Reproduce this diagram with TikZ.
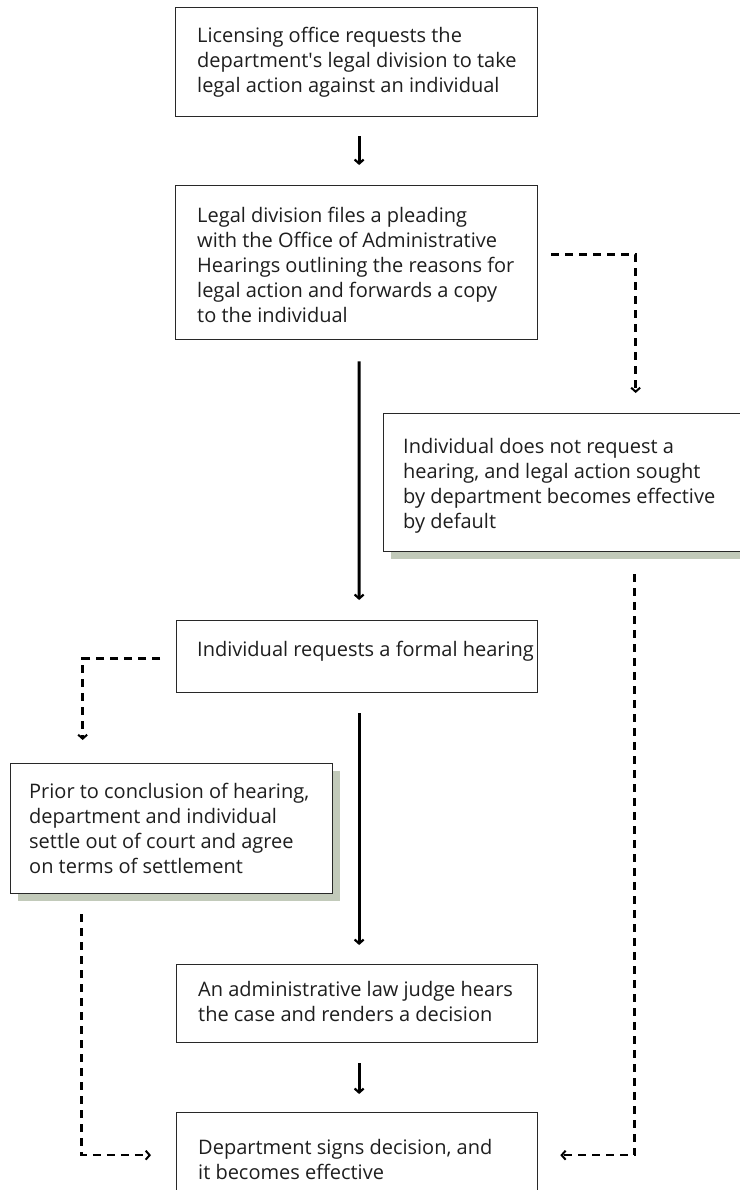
\documentclass[tikz,border=0pt]{standalone}
\usepackage{fontspec}
\setmainfont{Open Sans}
\usetikzlibrary{arrows.meta,shadows,calc}
\definecolor{shadowc}{RGB}{194,202,186}
\definecolor{edgec}{RGB}{40,40,40}
\definecolor{txtc}{RGB}{30,30,30}
\begin{document}
\begin{tikzpicture}[x=1bp,y=-1bp,
  box/.style={draw=edgec, line width=1.3bp, fill=white, rectangle, inner sep=0pt, anchor=north west},
  shadowbox/.style={box, drop shadow={shadow xshift=7bp, shadow yshift=-7bp, fill=shadowc, opacity=1}},
  txt/.style={align=left, inner sep=0pt, anchor=west, text=txtc, font=\fontsize{20bp}{25bp}\selectfont},
  flow/.style={line width=3bp, -{Straight Barb[length=4bp,width=9bp,line width=2.2bp]}},
  alt/.style={line width=2.6bp, dash pattern=on 8bp off 6bp, -{Straight Barb[length=4bp,width=9bp,line width=2bp]}}]
\useasboundingbox (0,0) rectangle (740,1190);

% boxes
\node[box, minimum width=362bp, minimum height=109bp] (b1) at (175,7) {};
\node[box, minimum width=362bp, minimum height=154bp] (b2) at (175,185) {};
\node[shadowbox, minimum width=362bp, minimum height=138bp] (b3) at (383,413) {};
\node[box, minimum width=361bp, minimum height=72bp] (b4) at (176,620) {};
\node[shadowbox, minimum width=322bp, minimum height=130bp] (b5) at (10,763) {};
\node[box, minimum width=361bp, minimum height=78bp] (b6) at (176,964) {};
\node[box, minimum width=361bp, minimum height=85bp] (b7) at (176,1112) {};

% texts
\node[txt] (t1) at ([xshift=22bp]b1.west) {Licensing office requests the\\department\textquotesingle s legal division to take\\legal action against an individual};
\node[txt] (t2) at ([xshift=22bp,yshift=-2bp]b2.west) {Legal division files a pleading\\with the Office of Administrative\\Hearings outlining the reasons for\\legal action and forwards a copy\\to the individual};
\node[txt] (t3) at ([xshift=20bp,yshift=-3bp]b3.west) {Individual does not request a\\hearing, and legal action sought\\by department becomes effective\\by default};
\node[txt] (t4) at ([xshift=21bp,yshift=5bp]b4.west) {Individual requests a formal hearing};
\node[txt] (t5) at ([xshift=19bp]b5.west) {Prior to conclusion of hearing,\\department and individual\\settle out of court and agree\\on terms of settlement};
\node[txt] (t6) at ([xshift=22bp,yshift=2bp]b6.west) {An administrative law judge hears\\the case and renders a decision};
\node[txt] (t7) at ([xshift=22bp,yshift=-4bp]b7.west) {Department signs decision, and\\it becomes effective};

% main flow
\draw[flow, shorten <=19bp, shorten >=20bp] ([xshift=2.5bp]b1.south) -- ([xshift=2.5bp]b2.north);
\draw[flow, shorten <=21bp, shorten >=20bp] ([xshift=2.5bp]b2.south) -- ([xshift=2bp]b4.north);
\draw[flow, shorten <=20bp, shorten >=19bp] ([xshift=2bp]b4.south) -- ([xshift=2bp]b6.north);
\draw[flow, shorten <=20bp, shorten >=18bp] ([xshift=2bp]b6.south) -- ([xshift=2bp]b7.north);

% alternative paths
\coordinate (d1s) at ($(b2.east)+(13,-8)$);
\coordinate (d2s) at ($(b3.south)+(70,22)$);
\coordinate (d3s) at ($(b4.west)+(-16,2)$);
\coordinate (d4s) at ($(b5.south)+(-90,20)$);
\draw[alt, shorten >=20bp] (d1s) -| ([xshift=71bp]b3.north);
\draw[alt, shorten >=22bp] (d2s) |- (b7.east);
\draw[alt, shorten >=23bp] (d3s) -| ([xshift=-89bp]b5.north);
\draw[alt, shorten >=25bp] (d4s) |- (b7.west);
\end{tikzpicture}
\end{document}
